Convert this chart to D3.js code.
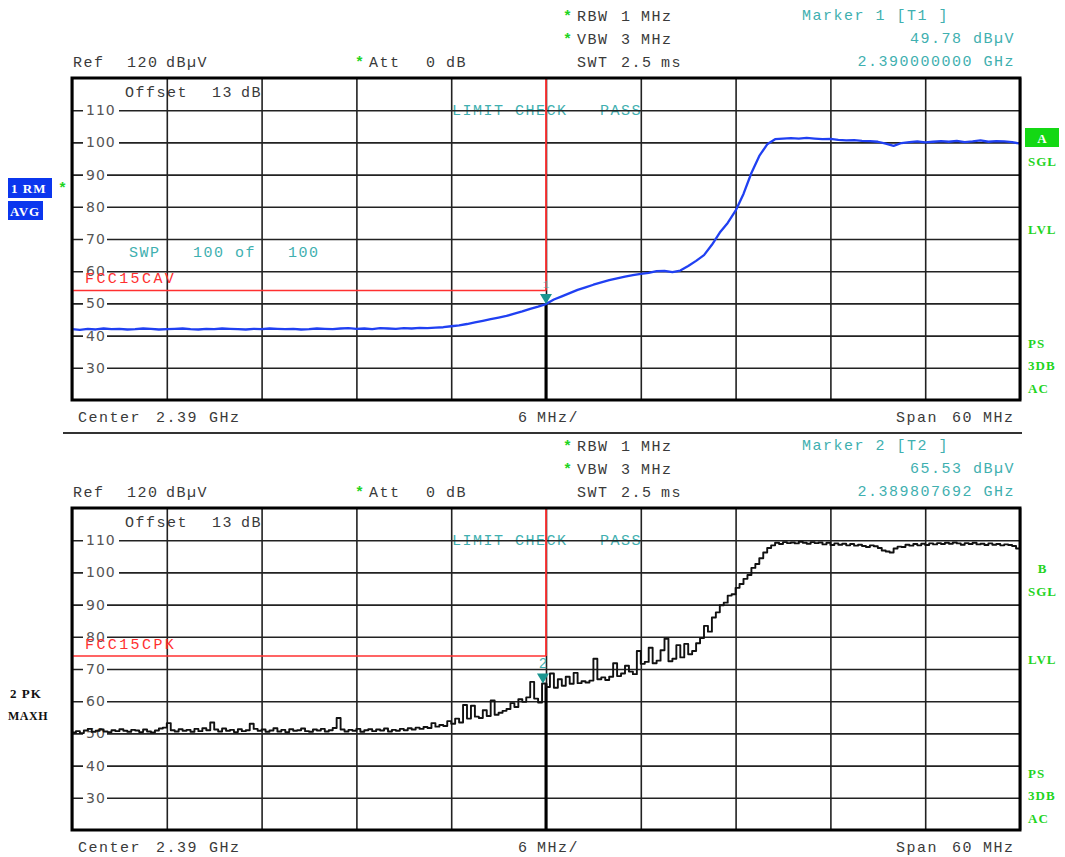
<!DOCTYPE html>
<html><head><meta charset="utf-8">
<script src="https://cdn.jsdelivr.net/npm/d3@7"></script>
<style>body{margin:0;background:#fff;} svg{display:block}</style>
</head><body><svg id="c" width="1065" height="857"></svg>
<script>
// ---------------- data ----------------
const refLevel = 120, bottomLevel = 20;
const yTicks = [30, 40, 50, 60, 70, 80, 90, 100, 110];
const startMHz = 2360, stopMHz = 2420, centerMHz = 2390;
const divisionsX = [2360, 2366, 2372, 2378, 2384, 2390, 2396, 2402, 2408, 2414, 2420];
const stepA = 0.5;   // MHz per sweep point, trace 1 (RM AVG)
const stepB = 0.25;  // MHz per sweep point, trace 2 (PK MAXH)
const traceA = [
  42.0, 41.8, 42.1, 41.9, 42.2, 42.0, 42.1, 41.9, 42.0, 42.2,
  42.1, 41.9, 42.0, 42.1, 42.2, 42.0, 41.9, 42.1, 42.0, 42.2,
  42.1, 42.0, 41.9, 42.1, 42.0, 42.2, 42.1, 42.0, 42.1, 41.9,
  42.0, 42.2, 42.1, 42.0, 42.2, 42.3, 42.1, 42.2, 42.0, 42.3,
  42.2, 42.1, 42.3, 42.2, 42.4, 42.3, 42.5, 42.6, 42.9, 43.2,
  43.6, 44.1, 44.6, 45.1, 45.6, 46.1, 46.8, 47.5, 48.3, 49.0,
  49.8, 51.2, 52.2, 53.2, 54.2, 55.0, 55.8, 56.5, 57.2, 57.8,
  58.3, 58.8, 59.2, 59.5, 60.0, 60.1, 59.7, 60.2, 61.6, 63.2,
  65.0, 68.2, 72.0, 75.0, 78.8, 84.0, 90.5, 95.8, 99.4, 101.0,
  101.2, 101.3, 101.2, 101.4, 101.2, 101.0, 101.1, 100.8, 100.6, 100.7,
  100.5, 100.4, 100.2, 99.6, 98.9, 99.8, 100.1, 100.3, 100.0, 100.2,
  100.4, 100.2, 100.5, 100.1, 100.3, 100.6, 100.2, 100.4, 100.3, 100.1,
  99.6
];
const traceB = [
  50.3, 50.7, 50.1, 50.9, 51.4, 50.5, 50.8, 51.2, 50.6, 50.4,
  51.0, 50.7, 51.3, 50.8, 50.5, 51.1, 50.9, 50.4, 51.2, 50.6,
  50.3, 50.9, 51.5, 51.8, 53.2, 51.0, 50.6, 51.3, 50.8, 51.1,
  50.5, 51.4, 50.7, 51.6, 51.0, 53.4, 51.2, 50.6, 51.5, 50.8,
  51.1, 50.4, 51.3, 50.7, 51.0, 53.0, 51.4, 50.8, 51.2, 50.5,
  50.9, 51.6, 50.6, 51.1, 50.4, 51.3, 50.8, 51.0, 51.5, 50.7,
  50.5, 51.2, 50.9, 51.4, 50.6, 51.0, 51.7, 54.8, 51.2, 50.6,
  51.1, 50.8, 51.4, 50.5, 51.0, 51.3, 50.7, 51.2, 50.9, 51.5,
  50.6, 51.1, 50.8, 51.4, 51.0, 51.6, 51.2, 51.8, 51.4, 52.0,
  51.7, 53.2, 52.1, 52.6, 52.3, 53.8, 53.0, 54.6, 53.4, 58.8,
  54.6, 58.6, 55.2, 54.8, 57.2, 55.4, 60.2, 55.8, 56.4, 57.0,
  57.6, 59.4, 58.2, 60.6, 59.8, 61.2, 66.0, 60.8, 59.6, 65.5,
  64.4, 68.6, 64.2, 66.8, 64.8, 67.6, 65.4, 68.8, 65.6, 66.2,
  65.8, 66.4, 73.2, 66.8, 67.4, 66.6, 67.6, 71.8, 67.8, 68.6,
  71.0, 69.2, 68.4, 75.6, 71.6, 72.2, 76.6, 71.8, 72.6, 75.8,
  79.4, 72.4, 73.2, 77.4, 73.6, 77.8, 74.6, 75.6, 78.0, 79.6,
  83.4, 81.6, 86.0, 87.6, 89.8, 90.6, 92.8, 93.2, 95.2, 96.4,
  98.0, 99.2, 101.4, 102.6, 104.4, 106.2, 107.6, 108.4, 109.2, 108.8,
  109.4, 109.1, 109.3, 109.0, 109.5, 109.2, 108.9, 109.4, 109.1, 109.3,
  108.7, 109.2, 108.5, 109.0, 108.6, 108.9, 108.4, 108.8, 108.3, 108.6,
  108.2, 107.9, 108.4, 108.1, 107.6, 106.8, 106.5, 106.2, 107.4, 108.0,
  107.9, 108.6, 108.3, 108.8, 108.4, 108.9, 108.5, 109.0, 108.7, 109.1,
  108.8, 109.2, 108.9, 109.3, 109.0, 108.6, 109.1, 108.8, 109.2, 108.7,
  108.9, 108.5, 109.0, 108.6, 108.8, 108.4, 108.7, 108.5, 108.2, 107.4,
  106.3
];
const limitNames = ["FCC15CAV", "FCC15CPK"];
const limitLevels = [54, 74];
const markerNames = ["Marker 1 [T1 ]", "Marker 2 [T2 ]"];
const markerFreqMHz = [2390.0, 2389.807692];
const markerLevels = [49.78, 65.53];
const markerFreqLabels = ["2.390000000 GHz", "2.389807692 GHz"];
const traceIds = ["A", "B"];

// ---------------- drawing ----------------
const svg = d3.select("#c");
const mono = "'Liberation Mono', 'Courier New', monospace";
const serif = "'Liberation Serif', 'Times New Roman', serif";
const sans = "'DejaVu Sans', sans-serif";
const GREEN = "#1fd41f", CYAN = "#3fb0b0", RED = "#ff3030", TEAL = "#1a9690", GRAYTXT = "#3a3a3a";

const x = d3.scaleLinear().domain([startMHz, stopMHz]).range([72, 1020]);

function t(g, px, py, s, o = {}) {
  return g.append("text").attr("x", px).attr("y", py)
    .attr("dominant-baseline", "central")
    .attr("text-anchor", o.anchor || "start")
    .style("font-family", o.font || mono)
    .style("font-size", (o.size || 15) + "px")
    .style("font-weight", o.bold ? "bold" : "normal")
    .style("letter-spacing", (o.ls === undefined ? 1.5 : o.ls) + "px")
    .style("white-space", "pre")
    .attr("fill", o.fill || GRAYTXT)
    .text(s);
}

const panels = [
  { dy: 0, trace: traceA, step: stepA, color: "#2040f2", width: 2.3, k: 0 },
  { dy: 430, trace: traceB, step: stepB, color: "#111", width: 1.9, k: 1 }
];

panels.forEach(p => {
  const g = svg.append("g").attr("transform", `translate(0,${p.dy})`);
  const y = d3.scaleLinear().domain([bottomLevel, refLevel]).range([400, 78]);
  const k = p.k;

  // header
  t(g, 563, 17, "*", { fill: GREEN, bold: true, ls: 0 });
  t(g, 577, 17, "RBW"); t(g, 621, 17, "1"); t(g, 641, 17, "MHz");
  t(g, 563, 40, "*", { fill: GREEN, bold: true, ls: 0 });
  t(g, 577, 40, "VBW"); t(g, 621, 40, "3"); t(g, 641, 40, "MHz");
  t(g, 577, 63, "SWT"); t(g, 621, 63, "2.5"); t(g, 661, 63, "ms");
  t(g, 73, 63, "Ref"); t(g, 127, 63, "120"); t(g, 166, 63, "dB\u00b5V");
  t(g, 355, 63, "*", { fill: GREEN, bold: true, ls: 0 });
  t(g, 369, 63, "Att"); t(g, 426, 63, "0"); t(g, 446, 63, "dB");
  t(g, 802, 16, markerNames[k], { fill: CYAN });
  t(g, 1015, 39, markerLevels[k].toFixed(2) + " dB\u00b5V", { fill: CYAN, anchor: "end" });
  t(g, 1015, 62, markerFreqLabels[k], { fill: CYAN, anchor: "end" });

  // annotations inside plot (under grid)
  t(g, 125, 93, "Offset"); t(g, 212, 93, "13"); t(g, 241, 93, "dB");
  t(g, 452, 111, "LIMIT CHECK", { fill: CYAN });
  t(g, 600, 111, "PASS", { fill: CYAN });
  if (k === 0) {
    t(g, 129, 253, "SWP", { fill: CYAN });
    t(g, 193, 253, "100", { fill: CYAN }); t(g, 235, 253, "of", { fill: CYAN });
    t(g, 288, 253, "100", { fill: CYAN });
  }

  // grid via axes
  const gx = g.append("g").attr("transform", "translate(0,400)")
    .call(d3.axisBottom(x).tickValues(divisionsX).tickSize(-322).tickFormat(""));
  gx.select(".domain").remove();
  gx.selectAll("line").attr("stroke", "#222").attr("stroke-width", 1.6);
  const gy = g.append("g").attr("transform", "translate(72,0)")
    .call(d3.axisLeft(y).tickValues(yTicks).tickSize(-948).tickFormat(""));
  gy.select(".domain").remove();
  gy.selectAll("line").attr("stroke", "#222").attr("stroke-width", 1.6);

  // y tick labels with white background
  yTicks.forEach(v => {
    const wlab = v >= 100 ? 34 : 22;
    g.append("rect").attr("x", 83).attr("y", y(v) - 6).attr("width", wlab + 2).attr("height", 12).attr("fill", "#fff");
    t(g, 86, y(v), String(v), { font: sans, size: 14, ls: 1, fill: "#555" });
  });

  // limit line name (drawn over the tick label background)
  t(g, 85, y(limitLevels[k]) - 11, limitNames[k], { fill: RED, ls: 2.4 });

  // limit lines
  g.append("line").attr("x1", 72).attr("x2", x(centerMHz))
    .attr("y1", y(limitLevels[k])).attr("y2", y(limitLevels[k]))
    .attr("stroke", RED).attr("stroke-width", 1.5);
  g.append("line").attr("x1", x(centerMHz)).attr("x2", x(centerMHz))
    .attr("y1", 78).attr("y2", y(limitLevels[k]))
    .attr("stroke", RED).attr("stroke-width", 1.8);
  // emphasised centre line below marker
  g.append("line").attr("x1", x(centerMHz)).attr("x2", x(centerMHz))
    .attr("y1", y(markerLevels[k])).attr("y2", 400)
    .attr("stroke", "#000").attr("stroke-width", 3);

  // trace
  g.append("clipPath").attr("id", "clip" + k).append("rect")
    .attr("x", 72).attr("y", 78).attr("width", 948).attr("height", 322);
  const line = d3.line()
    .x((d, i) => x(startMHz + i * p.step))
    .y(d => y(d))
    .curve(k === 0 ? d3.curveLinear : d3.curveStepAfter);
  g.append("path").datum(p.trace).attr("d", line)
    .attr("clip-path", `url(#clip${k})`)
    .attr("fill", "none").attr("stroke", p.color)
    .attr("stroke-width", p.width).attr("stroke-linejoin", "round");

  // marker
  const mx = x(markerFreqMHz[k]), my = y(markerLevels[k]);
  g.append("path").attr("d", `M${mx - 6},${my - 10}L${mx + 6},${my - 10}L${mx},${my}Z`).attr("fill", TEAL);
  t(g, mx, my - 19, String(k + 1), { fill: CYAN, anchor: "middle", size: k === 0 ? 11 : 14, ls: 0 })
    .attr("opacity", k === 0 ? 0.6 : 1);

  // frame
  g.append("rect").attr("x", 72).attr("y", 78).attr("width", 948).attr("height", 322)
    .attr("fill", "none").attr("stroke", "#000").attr("stroke-width", 3);

  // footer
  t(g, 78, 418, "Center"); t(g, 156, 418, "2.39"); t(g, 209, 418, "GHz");
  t(g, 518, 418, "6"); t(g, 537, 418, "MHz/");
  t(g, 896, 418, "Span"); t(g, 952, 418, "60"); t(g, 983, 418, "MHz");

  // right side status
  if (k === 0) {
    g.append("rect").attr("x", 1025).attr("y", 128).attr("width", 34).attr("height", 19).attr("fill", "#14d814");
    t(g, 1042, 138, traceIds[k], { font: serif, bold: true, size: 13, fill: "#fff", anchor: "middle", ls: 0 });
  } else {
    t(g, 1042, 138, traceIds[k], { font: serif, bold: true, size: 13, fill: GREEN, anchor: "middle", ls: 0 });
  }
  const rs = { font: serif, bold: true, size: 13, fill: GREEN, ls: 1 };
  t(g, 1028, 161, "SGL", rs);
  t(g, 1028, 229, "LVL", rs);
  t(g, 1028, 343, "PS", rs);
  t(g, 1028, 365, "3DB", rs);
  t(g, 1028, 388, "AC", rs);

  // left side trace info
  if (k === 0) {
    g.append("rect").attr("x", 8).attr("y", 178).attr("width", 44).attr("height", 20).attr("fill", "#0b36ee");
    t(g, 11, 188, "1 RM", { font: serif, bold: true, size: 13, fill: "#fff", ls: 1 });
    t(g, 58, 189, "*", { fill: GREEN, bold: true, ls: 0 });
    g.append("rect").attr("x", 8).attr("y", 201).attr("width", 35).attr("height", 19).attr("fill", "#0b36ee");
    t(g, 10, 211, "AVG", { font: serif, bold: true, size: 13, fill: "#fff", ls: 1 });
  } else {
    t(g, 10, 263, "2 PK", { font: serif, bold: true, size: 13, fill: "#111", ls: 1 });
    t(g, 8, 286, "MAXH", { font: serif, bold: true, size: 12, fill: "#111", ls: 0.5 });
  }
});

// separator
svg.append("line").attr("x1", 63).attr("x2", 1022).attr("y1", 433).attr("y2", 433)
  .attr("stroke", "#333").attr("stroke-width", 2);
</script></body></html>
